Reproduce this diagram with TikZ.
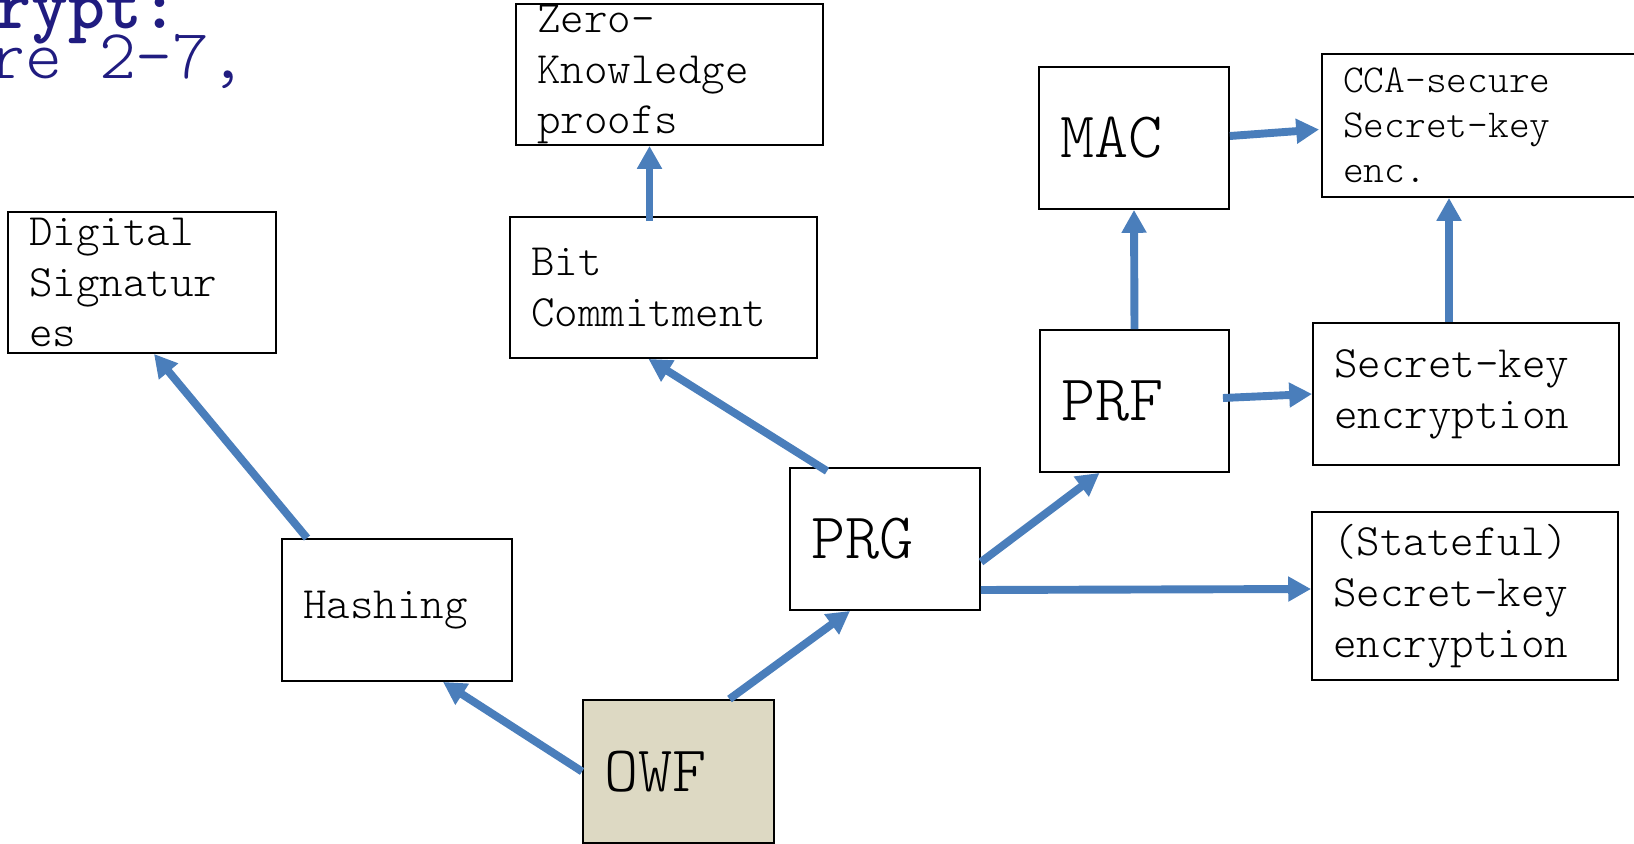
\documentclass[tikz,border=0pt]{standalone}
\usepackage{fontspec}
\setmonofont{Latin Modern Mono Light}
\usetikzlibrary{arrows.meta,calc}
\definecolor{linkblue}{HTML}{4A7EBB}
\definecolor{owftan}{HTML}{DDD9C3}
\definecolor{slidenavy}{HTML}{201C80}

\begin{document}
\begin{tikzpicture}[
  x=0.02cm, y=-0.02cm,
  box/.style={draw=black,line width=1.1pt,fill=white,align=left,
              inner xsep=0.42cm,inner ysep=0pt,
              font=\ttfamily\fontsize{25.5}{29}\selectfont},
  bigbox/.style={box,font=\ttfamily\fontsize{37}{42}\selectfont},
  caption/.style={anchor=base west,inner sep=0pt,text=slidenavy,
                  font=\ttfamily\fontsize{40}{44}\selectfont},
  link/.style={-{Triangle[length=13pt,width=13.5pt]},draw=linkblue,line width=4.5pt},
]
  \useasboundingbox (0,0) rectangle (1634,844);

  % slide caption, cut off at the left
  \node[caption,font=\ttfamily\bfseries\fontsize{40}{44}\selectfont] (crypt) at (-6,29) {rypt:};
  \node[caption] (chapter) at (-12,79) {re 2-7,};

  % primitives
  \node[box,text width=4.52cm,minimum height=2.82cm] (dsig) at (142,282.5) {Digital\\Signatur\\es};
  \node[box,text width=5.30cm,minimum height=2.82cm] (zkp) at (669.5,74.5) {Zero-\\Knowledge\\proofs};
  \node[box,text width=5.30cm,minimum height=2.82cm] (bitc) at (663.5,287.5) {Bit\\Commitment};
  \node[bigbox,text width=2.96cm,minimum height=2.84cm] (mac) at (1134,138) {MAC};
  \node[box,text width=5.52cm,minimum height=2.86cm,
        font=\ttfamily\fontsize{22.5}{25.6}\selectfont] (cca) at (1481,125.5) {CCA-secure\\Secret-key\\enc.};
  \node[bigbox,text width=2.94cm,minimum height=2.84cm] (prf) at (1134.5,401) {PRF};
  \node[box,text width=5.28cm,minimum height=2.84cm] (ske) at (1466,394) {Secret-key\\encryption};
  \node[bigbox,text width=2.96cm,minimum height=2.84cm] (prg) at (885,539) {PRG};
  \node[box,text width=5.28cm,minimum height=3.36cm] (sske) at (1465,596) {(Stateful)\\Secret-key\\encryption};
  \node[box,text width=3.76cm,minimum height=2.84cm] (hash) at (397,610) {Hashing};
  \node[bigbox,fill=owftan,text width=2.98cm,minimum height=2.86cm] (owf) at (678.5,771.5) {OWF};

  % implications
  \draw[link] (owf.west) -- ($(hash.south)+(46,0)$);
  \draw[link] ($(owf.north)+(51,0)$) -- ($(prg.south)+(-35,0)$);
  \draw[link] ($(hash.north)+(-90,0)$) -- ($(dsig.south)+(12,0)$);
  \draw[link] ($(prg.north)+(-58,4)$) -- ($(bitc.south)+(-15,0)$);
  \draw[link] ($(bitc.north)+(-14,5)$) -- ($(zkp.south)+(-20,0)$);
  \draw[link] ($(prg.east)+(0,23)$) -- ($(prf.south)+(-35,0)$);
  \draw[link] ($(prg.east)+(0,51)$) -- ($(sske.west)+(0,-7)$);
  \draw[link] (prf.north) -- (mac.south);
  \draw[link] ($(prf.east)+(-7,-3)$) -- (ske.west);
  \draw[link] ($(ske.north)+(-17,0)$) -- ($(cca.south)+(-32,0)$);
  \draw[link] ($(mac.east)+(0,-2)$) -- ($(cca.west)+(-2,4)$);
\end{tikzpicture}
\end{document}
